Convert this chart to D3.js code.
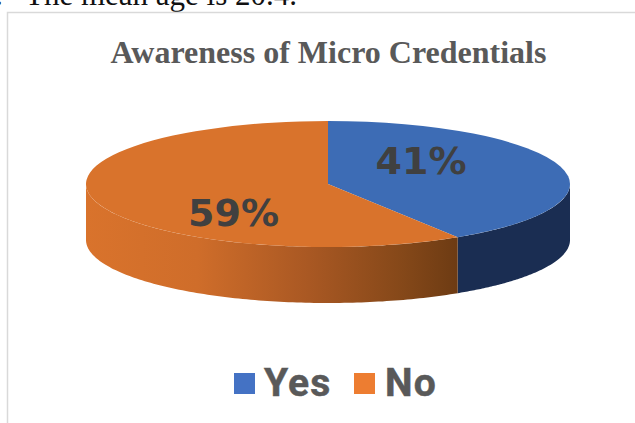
<!DOCTYPE html>
<html>
<head>
<meta charset="utf-8">
<script src="https://cdn.jsdelivr.net/npm/d3@7/dist/d3.min.js"></script>
<style>
html,body{margin:0;padding:0;background:#fff;overflow:hidden}
svg{display:block}
</style>
</head>
<body>
<svg id="chart" width="635" height="423"></svg>
<script>
// Survey responses
const categories = ["Yes", "No"];
const shares = [41, 59];
const labels = ["41%", "59%"];
const titleText = "Awareness of Micro Credentials";
const bodyLine = "The mean age is 20.4.";

const topColors = ["#3d6cb5", "#d9732c"];
const legendColors = ["#4472c4", "#ed7d31"];

const svg = d3.select("#chart");
const cx = 328, cy = 184, rx = 242, ry = 63, depth = 56;

// Surrounding body text and the chart frame
const body = svg.append("g")
  .attr("font-family", "Liberation Serif").attr("font-size", 31).attr("fill", "#111");
body.append("text").attr("x", -5).attr("y", 5).text(".");
body.append("text").attr("x", 25).attr("y", 5).text(bodyLine);

svg.append("path").attr("d", "M7.5,423V12.5H635")
  .attr("fill", "none").attr("stroke", "#d9d9d9").attr("stroke-width", 1.5);

svg.append("text").attr("x", 328.5).attr("y", 63).attr("text-anchor", "middle")
  .attr("font-family", "Liberation Serif").attr("font-weight", "bold").attr("font-size", 32)
  .attr("fill", "#595959").text(titleText);

// Elliptical projection of the pie
const arcs = d3.pie().sort(null)(shares);
const px = a => cx + rx * Math.sin(a);
const py = a => cy - ry * Math.cos(a);

const defs = svg.append("defs");
const shade = defs.append("linearGradient").attr("id", "wall-no")
  .attr("gradientUnits", "userSpaceOnUse")
  .attr("x1", cx - rx).attr("x2", px(arcs[1].startAngle)).attr("y1", 0).attr("y2", 0);
[[0, "#d9732c"], [0.3, "#cf6d2a"], [0.6, "#a95823"], [0.85, "#854819"], [1, "#6d3b13"]]
  .forEach(([o, c]) => shade.append("stop").attr("offset", o).attr("stop-color", c));

const wallFill = ["#1a2d52", "url(#wall-no)"];
const wall = d3.area().x(a => px(a)).y0(a => py(a)).y1(a => py(a) + depth);

// Side walls exist only on the near half of the ellipse
arcs.forEach((d, i) => {
  const from = Math.max(d.startAngle, Math.PI / 2);
  const to = Math.min(d.endAngle, Math.PI * 1.5);
  if (to <= from) return;
  const steps = d3.range(0, 121).map(k => from + (to - from) * k / 120);
  svg.append("path").attr("d", wall(steps)).attr("fill", wallFill[i]);
});

// Top face: a circular arc squashed into an ellipse
const arcGen = d3.arc().innerRadius(0).outerRadius(rx);
svg.append("g").attr("transform", `translate(${cx},${cy}) scale(1,${ry / rx})`)
  .selectAll("path").data(arcs).join("path")
  .attr("d", arcGen).attr("fill", (d, i) => topColors[i]);

// Value labels
const labelPos = [[421, 174], [233.5, 226]];
svg.selectAll("text.value").data(labels).join("text").attr("class", "value")
  .attr("x", (d, i) => labelPos[i][0]).attr("y", (d, i) => labelPos[i][1])
  .attr("text-anchor", "middle")
  .attr("font-family", "DejaVu Sans").attr("font-weight", "bold").attr("font-size", 38)
  .attr("fill", "#404040").text(d => d);

// Legend
const legendX = [234, 354], legendTextX = [264, 385];
categories.forEach((c, i) => {
  svg.append("rect").attr("x", legendX[i]).attr("y", 373).attr("width", 21).attr("height", 21)
    .attr("fill", legendColors[i]);
  svg.append("text").attr("x", legendTextX[i]).attr("y", 396)
    .attr("font-family", "Roboto").attr("font-weight", "bold").attr("font-size", 39)
    .attr("letter-spacing", 1.2)
    .attr("stroke", "#595959").attr("stroke-width", 0.5)
    .attr("fill", "#595959").text(c);
});
</script>
</body>
</html>
